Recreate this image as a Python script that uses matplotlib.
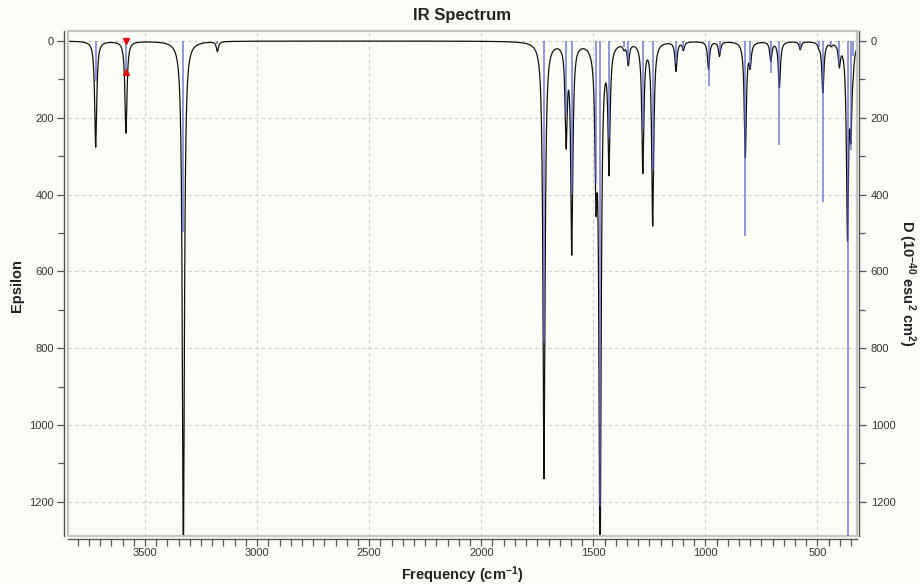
import numpy as np
import matplotlib.pyplot as plt
from matplotlib.patches import Rectangle
from matplotlib.ticker import MultipleLocator

plt.rcParams['font.family'] = ['Liberation Sans', 'DejaVu Sans']
plt.rcParams['mathtext.fontset'] = 'custom'
plt.rcParams['mathtext.rm'] = 'Liberation Sans:bold'
plt.rcParams['mathtext.bf'] = 'Liberation Sans:bold'
plt.rcParams['mathtext.default'] = 'regular'

# peaks: frequency (cm-1), epsilon peak height, D stick
freq = [3720, 3585, 3329, 3177, 1720, 1621, 1596, 1488, 1470, 1430,
        1363, 1344, 1279, 1235, 1131, 1098, 986, 937, 822, 800,
        708, 670, 577, 493, 476, 439, 402, 366, 351, 341]
eps = [276, 239, 1340, 26, 1137, 250, 540, 330, 1380, 320,
       12, 55, 335, 475, 76, 21, 72, 38, 300, 55,
       50, 120, 21, 9, 132, 7, 55, 495, 200, 30]
dip = [104, 81, 498, 9, 783, 191, 400, 370, 1211, 252,
       15, 55, 230, 335, 57, 20, 117, 30, 509, 70,
       83, 270, 20, 15, 418, 10, 60, 1450, 283, 40]
sel_freq = 3585   # selected mode (red markers)

hwhm = 5.5
bg = '#fdfdf7'

x = np.linspace(325, 3845, 30000)
curve = np.zeros_like(x)
for f, e in zip(freq, eps):
    curve += e * hwhm**2 / (hwhm**2 + (x - f)**2)

fig = plt.figure(figsize=(9.21, 5.85), dpi=100, facecolor=bg)
ax = fig.add_axes([0.0735, 0.0838, 0.8567, 0.8632])
ax.set_facecolor(bg)
ax2 = ax.twinx()

ax.plot(x, curve, color='#111111', lw=0.9, zorder=3)
ax2.vlines(freq, 0, dip, color='#5560c8', lw=1.2, alpha=0.75, zorder=4)
i = freq.index(sel_freq)
ax2.plot([sel_freq], [0], marker='v', color='#e01010', ms=5, ls='none', clip_on=False, zorder=5)
ax2.plot([sel_freq], [dip[i]], marker='^', color='#e01010', ms=5, ls='none', zorder=5)

ax.set_xlim(3845, 325)
ax.set_ylim(1289, -26)
ax2.set_ylim(1289, -26)

ax.xaxis.set_major_locator(MultipleLocator(500))
ax.xaxis.set_minor_locator(MultipleLocator(50))
for a in (ax, ax2):
    a.yaxis.set_major_locator(MultipleLocator(200))
    a.yaxis.set_minor_locator(MultipleLocator(100))

ax.grid(True, which='major', ls=(0, (3, 3)), color='#cccccc', lw=0.8)
ax.set_axisbelow(True)

for a in (ax, ax2):
    for s in a.spines.values():
        s.set_visible(False)
ax.spines['left'].set_visible(True)
ax.spines['left'].set_position(('outward', 3))
ax.spines['bottom'].set_visible(True)
ax.spines['bottom'].set_position(('outward', 2))
ax2.spines['right'].set_visible(True)
ax2.spines['right'].set_position(('outward', 2))
for s in (ax.spines['left'], ax.spines['bottom'], ax2.spines['right']):
    s.set_color('#555555')
    s.set_linewidth(1.0)

ax.add_patch(Rectangle((0, 0), 1, 1, transform=ax.transAxes, fill=False,
                       ec='#c4c4c4', lw=1.6, zorder=6, clip_on=False))

ax.tick_params(which='major', length=5, width=0.9, color='#555555',
               labelsize=8, labelcolor='#333333', pad=2)
ax.tick_params(which='minor', length=4, width=0.9, color='#555555')
ax.tick_params(axis='x', which='minor', length=5)
ax2.tick_params(which='major', length=5, width=0.9, color='#555555',
                labelsize=8, labelcolor='#333333', pad=3)
ax2.tick_params(which='minor', length=4, width=0.9, color='#555555')

fig.text(0.5017, 0.973, 'IR Spectrum', ha='center', va='center',
         fontsize=12, fontweight='bold', color='#222222')
fig.text(0.5017, 1 - 575 / 585, r'Frequency (cm$^{-1}$)', ha='center',
         va='center', fontsize=10.5, fontweight='bold', color='#222222')
fig.text(17 / 921, 1 - 286 / 585, 'Epsilon', ha='center', va='center',
         rotation=90, fontsize=10.5, fontweight='bold', color='#222222')
fig.text(907 / 921, 1 - 283 / 585, r'D (10$^{-40}$ esu$^2$ cm$^2$)', ha='center',
         va='center', rotation=270, fontsize=10.5, fontweight='bold', color='#222222')

fig.savefig('out.png', dpi=100, facecolor=bg)
